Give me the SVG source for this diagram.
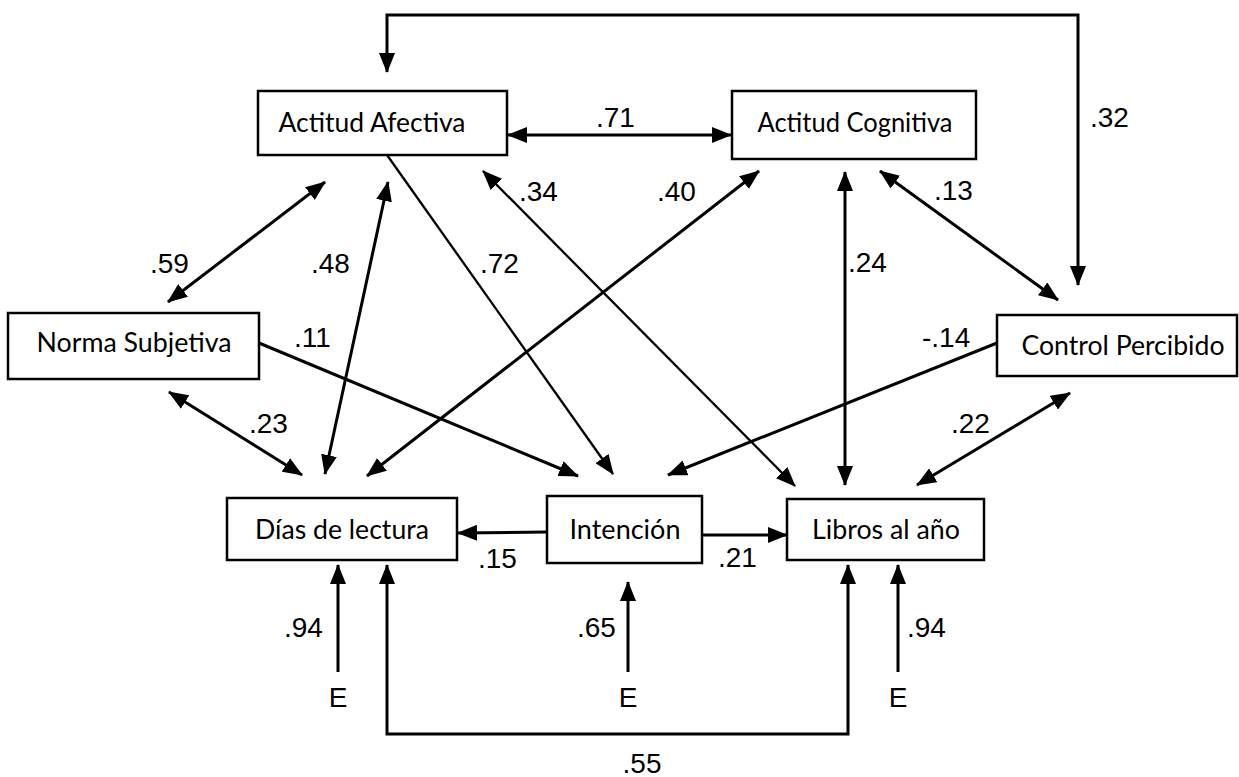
<svg xmlns="http://www.w3.org/2000/svg" width="1239" height="777" viewBox="0 0 1239 777">
<style>
.box{fill:#fff;stroke:#000;stroke-width:2.5}
.nt{font-family:Lato,"Open Sans","Liberation Sans",sans-serif;font-size:27px;fill:#000;text-anchor:middle}
.lb{font-family:"Liberation Sans",Arial,sans-serif;font-size:28px;fill:#000}
.c{fill:none;stroke:#000;stroke-width:3}
.t{fill:none;stroke:#000;stroke-width:2.3}
</style>
<defs>
<marker id="ah" markerUnits="userSpaceOnUse" markerWidth="20" markerHeight="16" refX="19" refY="8" orient="auto-start-reverse">
<path d="M0,0 L20,8 L0,16 z" fill="#000"/>
</marker>
</defs>
<g id="connectors">
<path class="c" d="M1078,285 V15 H387 V72" marker-start="url(#ah)" marker-end="url(#ah)"/>
<line class="c" x1="508" y1="135" x2="731" y2="135" marker-start="url(#ah)" marker-end="url(#ah)"/>
<line class="t" x1="387" y1="155" x2="613" y2="474" marker-end="url(#ah)"/>
<line class="t" x1="483" y1="171" x2="795" y2="486" marker-start="url(#ah)" marker-end="url(#ah)"/>
<line class="c" x1="759" y1="171" x2="367" y2="476" marker-start="url(#ah)" marker-end="url(#ah)"/>
<line class="c" x1="845" y1="172" x2="845" y2="485" marker-start="url(#ah)" marker-end="url(#ah)"/>
<line class="c" x1="880" y1="171" x2="1058" y2="300" marker-start="url(#ah)" marker-end="url(#ah)"/>
<line class="c" x1="325" y1="182" x2="168" y2="302" marker-start="url(#ah)" marker-end="url(#ah)"/>
<line class="c" x1="388" y1="182" x2="325" y2="474" marker-start="url(#ah)" marker-end="url(#ah)"/>
<line class="c" x1="259" y1="343" x2="578" y2="476" marker-end="url(#ah)"/>
<line class="c" x1="169" y1="392" x2="302" y2="475" marker-start="url(#ah)" marker-end="url(#ah)"/>
<line class="c" x1="997" y1="343" x2="668" y2="475" marker-end="url(#ah)"/>
<line class="c" x1="1070" y1="393" x2="917" y2="485" marker-start="url(#ah)" marker-end="url(#ah)"/>
<line class="c" x1="547" y1="532" x2="458" y2="533" marker-end="url(#ah)"/>
<line class="c" x1="702" y1="535" x2="787" y2="535" marker-end="url(#ah)"/>
<line class="c" x1="338" y1="672" x2="338" y2="565" marker-end="url(#ah)"/>
<line class="c" x1="628" y1="672" x2="628" y2="582" marker-end="url(#ah)"/>
<line class="c" x1="898" y1="672" x2="898" y2="565" marker-end="url(#ah)"/>
<path class="c" d="M387,565 V734 H848 V565" marker-start="url(#ah)" marker-end="url(#ah)"/>
</g>
<g id="labels">
<text class="lb" x="596" y="127">.71</text>
<text class="lb" x="1090" y="127">.32</text>
<text class="lb" x="519" y="201">.34</text>
<text class="lb" x="657" y="201">.40</text>
<text class="lb" x="934" y="200">.13</text>
<text class="lb" x="480" y="273">.72</text>
<text class="lb" x="848" y="272">.24</text>
<text class="lb" x="150" y="273">.59</text>
<text class="lb" x="311" y="273">.48</text>
<text class="lb" x="294" y="347">.11</text>
<text class="lb" x="922" y="347">-.14</text>
<text class="lb" x="249" y="433">.23</text>
<text class="lb" x="951" y="433">.22</text>
<text class="lb" x="478" y="568">.15</text>
<text class="lb" x="718" y="567">.21</text>
<text class="lb" x="284" y="637">.94</text>
<text class="lb" x="577" y="637">.65</text>
<text class="lb" x="907" y="637">.94</text>
<text class="lb" x="338" y="707" text-anchor="middle">E</text>
<text class="lb" x="628" y="707" text-anchor="middle">E</text>
<text class="lb" x="898" y="707" text-anchor="middle">E</text>
<text class="lb" x="642" y="773" text-anchor="middle">.55</text>
</g>
<g id="actitud-afectiva"><rect class="box" x="258" y="91" width="249" height="64"/><text class="nt" x="372" y="132" textLength="187" lengthAdjust="spacingAndGlyphs">Actitud Afectiva</text></g>
<g id="actitud-cognitiva"><rect class="box" x="732" y="91" width="244" height="68"/><text class="nt" x="855" y="132" textLength="195" lengthAdjust="spacingAndGlyphs">Actitud Cognitiva</text></g>
<g id="norma-subjetiva"><rect class="box" x="8" y="313" width="251" height="66"/><text class="nt" x="134" y="352" textLength="195" lengthAdjust="spacingAndGlyphs">Norma Subjetiva</text></g>
<g id="control-percibido"><rect class="box" x="997" y="315" width="240" height="61"/><text class="nt" x="1123" y="355" textLength="203" lengthAdjust="spacingAndGlyphs">Control Percibido</text></g>
<g id="dias-de-lectura"><rect class="box" x="227" y="498" width="230" height="62"/><text class="nt" x="342" y="539" textLength="174" lengthAdjust="spacingAndGlyphs">Días de lectura</text></g>
<g id="intencion"><rect class="box" x="547" y="496" width="155" height="67"/><text class="nt" x="625" y="539" textLength="111" lengthAdjust="spacingAndGlyphs">Intención</text></g>
<g id="libros-al-ano"><rect class="box" x="787" y="499" width="197" height="61"/><text class="nt" x="886" y="539" textLength="148" lengthAdjust="spacingAndGlyphs">Libros al año</text></g>
</svg>
